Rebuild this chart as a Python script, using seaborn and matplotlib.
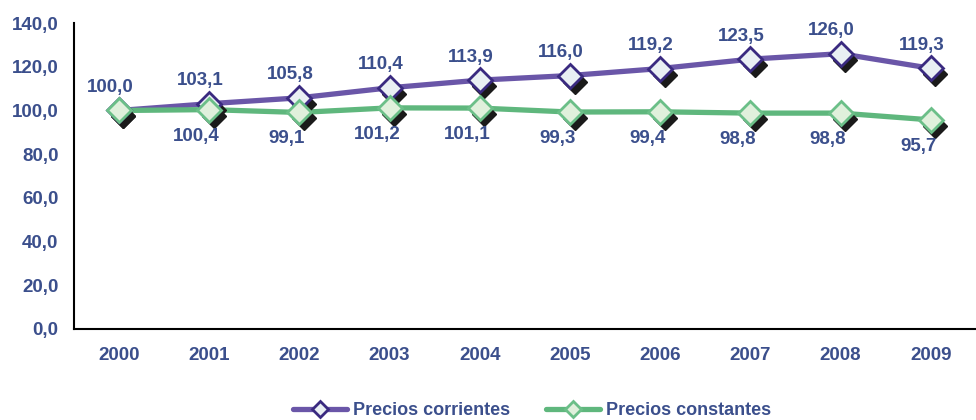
import numpy as np
import pandas as pd
import seaborn as sns
import matplotlib.pyplot as plt
import matplotlib.transforms as mtransforms
from matplotlib.lines import Line2D

years = ["2000", "2001", "2002", "2003", "2004", "2005", "2006", "2007", "2008", "2009"]
corrientes = [100.0, 103.1, 105.8, 110.4, 113.9, 116.0, 119.2, 123.5, 126.0, 119.3]
constantes = [100.0, 100.4, 99.1, 101.2, 101.1, 99.3, 99.4, 98.8, 98.8, 95.7]
series_names = ["Precios corrientes", "Precios constantes"]

text_color = "#3b4f8c"
line_colors = ["#6a56a8", "#5fb77d"]
edge_colors = ["#3a2a80", "#6bbf88"]
face_colors = ["#e9eff3", "#e0f0dc"]

sns.set_style("white")
plt.rcParams["font.family"] = ["Liberation Sans", "DejaVu Sans"]
plt.rcParams["font.weight"] = "bold"

x = np.arange(len(years))
df = pd.DataFrame({
    "x": np.concatenate([x, x]),
    "value": corrientes + constantes,
    "serie": [series_names[0]] * len(years) + [series_names[1]] * len(years),
})

fig = plt.figure(figsize=(9.76, 4.2), dpi=100)
ax = fig.add_axes([0.0756, 0.2167, 0.9244, 0.7283])

# lines
sns.lineplot(data=df, x="x", y="value", hue="serie", hue_order=series_names,
             palette=line_colors, linewidth=3.8, legend=False, ax=ax, zorder=2)

# black shadow markers + markers
shadow = mtransforms.offset_copy(ax.transData, fig=fig, x=4.5, y=-6, units="dots")
for i, vals in enumerate([corrientes, constantes]):
    ax.plot(x, vals, linestyle="none", marker="D", markersize=12, color="#1a1a1a",
            transform=shadow, zorder=3)
    ax.plot(x, vals, linestyle="none", marker="D", markersize=12, markeredgewidth=2,
            markerfacecolor=face_colors[i], markeredgecolor=edge_colors[i], zorder=4)

# data labels
for i, v in enumerate(corrientes):
    ax.annotate(f"{v:.1f}".replace(".", ","), (x[i], v), xytext=(-6.5, 16.5),
                textcoords="offset points", ha="center", va="center",
                fontsize=13.5, fontweight="bold", color=text_color)
for i, v in enumerate(constantes):
    if i == 0:
        continue
    ax.annotate(f"{v:.1f}".replace(".", ","), (x[i], v), xytext=(-9, -19),
                textcoords="offset points", ha="center", va="center",
                fontsize=13.5, fontweight="bold", color=text_color)

ax.set_xlim(-0.5, len(years) - 0.5)
ax.set_ylim(0, 140)
ax.set_yticks(np.arange(0, 141, 20))
ax.set_yticklabels([f"{t:.1f}".replace(".", ",") for t in np.arange(0, 141, 20)])
ax.set_xticks(x)
ax.set_xticklabels(years)
ax.set_xticks(np.arange(-0.5, len(years), 1), minor=True)
ax.tick_params(axis="x", which="major", length=0, pad=13, labelsize=13.5, labelcolor=text_color)
ax.tick_params(axis="x", which="minor", length=6, width=1.5, direction="out", color="black")
ax.tick_params(axis="y", length=6, width=1.5, direction="out", color="black",
               labelsize=13.5, labelcolor=text_color, pad=5)
for lab in ax.get_xticklabels() + ax.get_yticklabels():
    lab.set_fontweight("bold")
ax.set_xlabel("")
ax.set_ylabel("")

sns.despine(ax=ax)
for sp in ["left", "bottom"]:
    ax.spines[sp].set_color("black")
    ax.spines[sp].set_linewidth(1.5)

handles = [Line2D([0], [0], color=line_colors[i], linewidth=3.8, marker="D", markersize=8,
                  markeredgewidth=2, markerfacecolor=face_colors[i], markeredgecolor=edge_colors[i])
           for i in range(2)]
leg = fig.legend(handles, series_names, loc="center", bbox_to_anchor=(0.545, 0.022), ncol=2,
                 frameon=False, handlelength=3.0, columnspacing=2.0, handletextpad=0.3,
                 prop={"size": 13, "weight": "bold"})
for t in leg.get_texts():
    t.set_color(text_color)

fig.savefig("out.png", dpi=100)
